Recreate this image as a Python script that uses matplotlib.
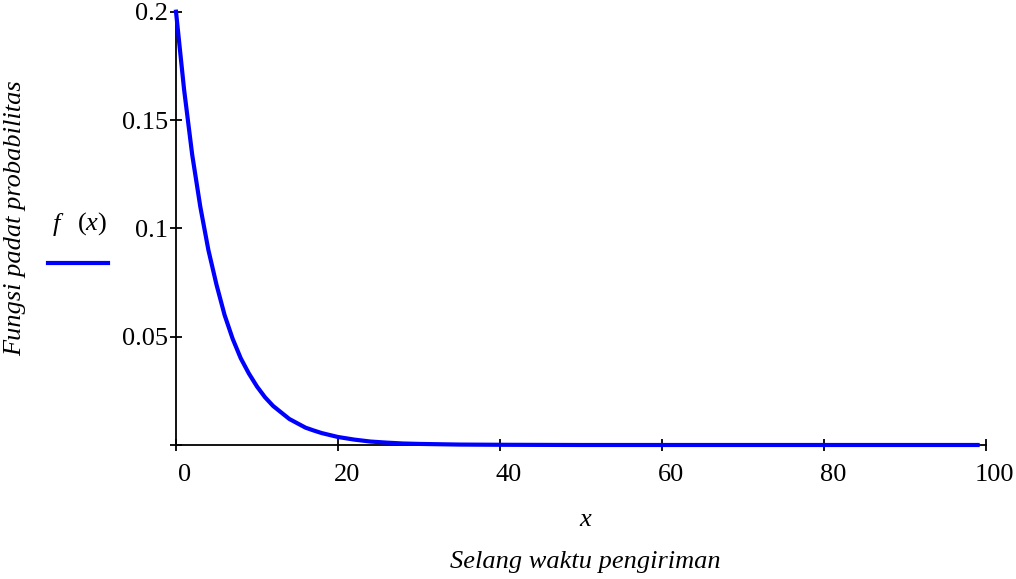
import matplotlib
matplotlib.use("Agg")
import matplotlib.pyplot as plt
import matplotlib.transforms as mtransforms

plt.rcParams['font.family'] = ['Liberation Serif', 'DejaVu Serif']
plt.rcParams['mathtext.fontset'] = 'custom'
plt.rcParams['mathtext.rm'] = 'Liberation Serif'
plt.rcParams['mathtext.it'] = 'Liberation Serif:italic'

# values
x_vals = [0, 1, 2, 3, 4, 5, 6, 7, 8, 9, 10, 11, 12, 13, 14, 15, 16, 17, 18,
          20, 22, 24, 26, 28, 30, 35, 40, 50, 60, 80, 99]
f_vals = [0.200, 0.164, 0.134, 0.110, 0.090, 0.074, 0.060, 0.049, 0.040,
          0.033, 0.027, 0.022, 0.018, 0.015, 0.012, 0.010, 0.008, 0.0067,
          0.0055, 0.0037, 0.0025, 0.0016, 0.0011, 0.0007, 0.0005, 0.0002,
          0.0001, 0.0, 0.0, 0.0, 0.0]
x_ticks = [0, 20, 40, 60, 80, 100]
x_tick_labels = ['0', '20', '40', '60', '80', '100']
y_ticks = [0.05, 0.1, 0.15, 0.2]
y_tick_labels = ['0.05', '0.1', '0.15', '0.2']

fig = plt.figure(figsize=(10.16, 5.79), dpi=100)
ax = fig.add_axes([176/1016, 1-445/579, (985.7-176)/1016, (445-11.7)/579])

ax.plot(x_vals, f_vals, color='#0000FF', lw=3.0, solid_joinstyle='round', clip_on=False)
ax.set_xlim(0, 100)
ax.set_ylim(0, 0.2)

for s in ['top', 'right']:
    ax.spines[s].set_visible(False)
for s in ['left', 'bottom']:
    ax.spines[s].set_linewidth(1.3)
    ax.spines[s].set_zorder(0.5)

ax.set_xticks(x_ticks)
ax.set_xticklabels(x_tick_labels)
ax.set_yticks([0] + y_ticks)
ax.set_yticklabels([''] + y_tick_labels)
ax.tick_params(axis='both', direction='inout', length=9, width=1.3, labelsize=19)
ax.tick_params(axis='x', pad=9)
ax.tick_params(axis='y', pad=1)

offset = mtransforms.ScaledTranslation(9/100, 0, fig.dpi_scale_trans)
for lab in ax.get_xticklabels():
    lab.set_transform(lab.get_transform() + offset)

fig.text(585/1016, 1-520/579, 'x', style='italic', fontsize=19, ha='center', va='center')
fig.text(585/1016, 1-562/579, 'Selang waktu pengiriman', style='italic', fontsize=19,
         ha='center', va='center')
fig.text(15/1016, 1-218/579, 'Fungsi padat probabilitas', style='italic', fontsize=19,
         rotation=90, ha='center', va='center')

# legend
fig.text(56/1016, 1-224/579, 'f', style='italic', fontsize=19, ha='center', va='center')
fig.text(92/1016, 1-224/579, r'$(x)$', fontsize=19, ha='center', va='center')
fig.add_artist(plt.Line2D([48/1016, 108/1016], [1-263/579, 1-263/579],
                          color='#0000FF', lw=3.0, transform=fig.transFigure))

fig.savefig('out.png', dpi=100)
